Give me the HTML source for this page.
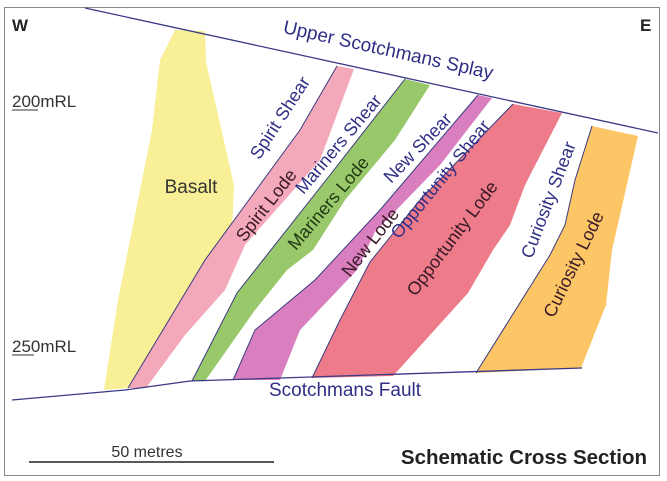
<!DOCTYPE html>
<html><head><meta charset="utf-8"><style>
html,body{margin:0;padding:0;background:#fff;}
svg{display:block;font-family:"Liberation Sans",Arial,sans-serif;}
</style></head><body>
<svg width="667" height="481" viewBox="0 0 667 481" xmlns="http://www.w3.org/2000/svg">
<rect x="0" y="0" width="667" height="481" fill="#fff"/>
<rect x="4.5" y="7.5" width="655" height="468" fill="none" stroke="#888" stroke-width="1"/>
<polygon points="175,30 205,31 206,62 234,185 232,232 205,262 128,388 104,390 118,300 152,130 160,60" fill="#f8ef96"/>
<polygon points="337,66 354,69 320,160 245,245 225,290 185,335 146,388 128,388 205,260 300,130" fill="#f4a9ba"/>
<polygon points="405,79 430,85 395,140 345,200 313,250 287,270 255,310 205,381 192,381 237,293 330,175" fill="#99c86a"/>
<polygon points="478,95 492,98 440,165 375,232 357,270 300,330 280,380 233,380 255,330 315,280 380,210" fill="#d97fbf"/>
<polygon points="513,104 562,113 525,185 510,225 493,250 468,293 393,376 312,378 340,320 370,262 420,200" fill="#ee7b8a"/>
<polygon points="592,126 638,136 612,250 606,305 581,368 476,373 550,255 565,225 575,180" fill="#fcc565"/>
<g stroke="#3b3b80" stroke-width="1" fill="none">
<polyline points="128,388 205,260 300,130 337,66"/>
<polyline points="192,381 237,293 330,175 405,79"/>
<polyline points="233,380 255,330 315,280 380,210 478,95"/>
<polyline points="312,378 340,320 370,262 420,200 513,104"/>
<polyline points="476,373 550,255 565,225 575,180 592,126"/>
<line x1="85" y1="8" x2="658" y2="133" stroke="#3a3a85" stroke-width="1.3"/>
<polyline points="12,400 125,390 190,381 582,368" stroke="#3a3a85" stroke-width="1.3"/>
</g>
<g font-size="18" fill="#2f2f85">
<text x="387" y="56" text-anchor="middle" font-size="19" transform="rotate(12.5 387 56)">Upper Scotchmans Splay</text>
<text x="345" y="396" text-anchor="middle" font-size="19">Scotchmans Fault</text>
<text x="285" y="121" text-anchor="middle" transform="rotate(-57 285 121)">Spirit Shear</text>
<text x="343" y="148" text-anchor="middle" transform="rotate(-50 343 148)">Mariners Shear</text>
<text x="422" y="152" text-anchor="middle" transform="rotate(-46 422 152)">New Shear</text>
<text x="445" y="183" text-anchor="middle" transform="rotate(-51 445 183)">Opportunity Shear</text>
<text x="554" y="202" text-anchor="middle" transform="rotate(-69 554 202)">Curiosity  Shear</text>
</g>
<g font-size="18" fill="#3a1a28">
<text x="191" y="193" text-anchor="middle" font-size="19" fill="#333">Basalt</text>
<text x="271" y="209" text-anchor="middle" transform="rotate(-52 271 209)">Spirit Lode</text>
<text x="333" y="207" text-anchor="middle" transform="rotate(-50 333 207)" fill="#1f3a12">Mariners Lode</text>
<text x="375" y="246" text-anchor="middle" transform="rotate(-52 375 246)">New Lode</text>
<text x="457" y="242" text-anchor="middle" transform="rotate(-53 457 242)">Opportunity Lode</text>
<text x="579" y="267" text-anchor="middle" transform="rotate(-64 579 267)">Curiosity Lode</text>
</g>
<text x="12" y="31" font-size="17" font-weight="bold" fill="#222">W</text>
<text x="640" y="31" font-size="17" font-weight="bold" fill="#222">E</text>
<text x="12" y="107" font-size="17" fill="#333">200mRL</text>
<line x1="12" y1="110" x2="38" y2="110" stroke="#333" stroke-width="1"/>
<text x="12" y="352" font-size="17" fill="#333">250mRL</text>
<line x1="12" y1="355" x2="34" y2="355" stroke="#333" stroke-width="1"/>
<line x1="29" y1="462" x2="274" y2="462" stroke="#222" stroke-width="1.5"/>
<text x="147" y="457" text-anchor="middle" font-size="16" fill="#333">50 metres</text>
<text x="647" y="464" text-anchor="end" font-size="20.5" font-weight="bold" fill="#222">Schematic Cross Section</text>
</svg>
</body></html>
